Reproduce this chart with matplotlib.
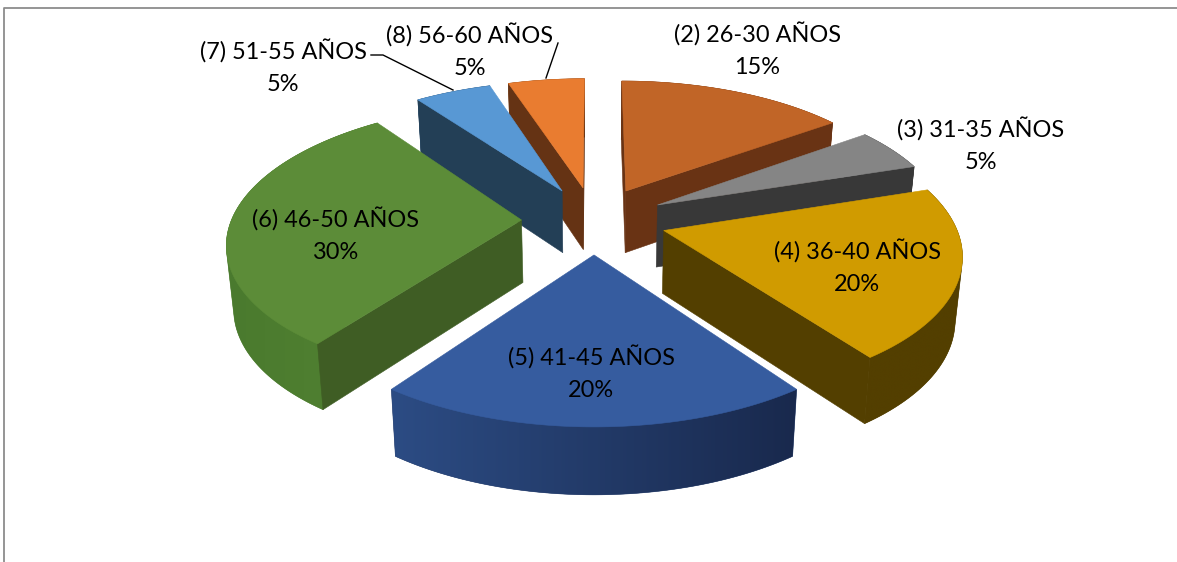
import numpy as np
import matplotlib
matplotlib.use('Agg')
import matplotlib.pyplot as plt
from matplotlib.colors import to_rgb
from matplotlib.patches import Polygon

labels = ['(2) 26-30 AÑOS', '(3) 31-35 AÑOS', '(4) 36-40 AÑOS', '(5) 41-45 AÑOS',
          '(6) 46-50 AÑOS', '(7) 51-55 AÑOS', '(8) 56-60 AÑOS']
values = [15, 5, 20, 20, 30, 5, 5]

top_colors = ['#C16527', '#858585', '#D09B00', '#365C9F', '#5C8C38', '#5898D4', '#E97C30']
cut_colors = ['#693314', '#383838', '#533F00', '#1A2A4F', '#3F5D24', '#233F56', '#653314']
side_left = ['#7A3D16', '#4A4A4A', '#533F00', '#2C4C84', '#4A7A2E', '#30597F', '#8A4A1A']
side_right = ['#693314', '#383838', '#533F00', '#19294D', '#528232', '#233F56', '#653314']

label_xy = [(757, 50), (981, 145), (857, 267), (591, 373), (335, 235), (283, 67), (470, 51)]
leaders = [None, None, None, None, None, ((371, 55), (383, 55), (453, 90)), ((558, 43), (546, 78))]

# perspective of the pie plane, fitted by eye against the picture
CX, CY = 594, 220
FX, FY = 290, 134.5
PERSP = 0.15
EXPLODE = 0.25
DROP = 62.5
BOTTOM_SHRINK = 0.98
DRAW_ORDER = [6, 5, 0, 1, 4, 2, 3]


def project(x, y, bottom=False):
    w = 1 + PERSP * y
    sx = FX * x / w
    sy = CY - FY * y / w
    if bottom:
        sx = sx * BOTTOM_SHRINK
        sy = sy + DROP / w ** 0.4
    return CX + sx, sy


def signed_area(px, py):
    return 0.5 * np.sum(px * np.roll(py, -1) - np.roll(px, -1) * py)


def convex_hull(points):
    pts = sorted(map(tuple, points))

    def half(seq):
        out = []
        for p in seq:
            while len(out) > 1 and ((out[-1][0] - out[-2][0]) * (p[1] - out[-2][1])
                                    - (out[-1][1] - out[-2][1]) * (p[0] - out[-2][0])) <= 0:
                out.pop()
            out.append(p)
        return out[:-1]

    return np.array(half(pts) + half(pts[::-1]))


def draw_face(ax, px, py, color, zorder):
    ax.fill(px, py, color=color, lw=0.4, zorder=zorder)


def draw_side(ax, tx, ty, bx, by, left_col, right_col, z):
    # curved outer side: left to right gradient clipped to the outline of the rims,
    # the top and the cut faces go over whatever is not really visible
    xy = convex_hull(np.column_stack([np.r_[tx, bx], np.r_[ty, by]]))
    mid_col = (np.array(to_rgb(left_col)) + np.array(to_rgb(right_col))) / 2
    draw_face(ax, xy[:, 0], xy[:, 1], mid_col, z)
    grad = np.linspace(to_rgb(left_col), to_rgb(right_col), 256)[np.newaxis, :, :]
    im = ax.imshow(grad, extent=(xy[:, 0].min(), xy[:, 0].max(), xy[:, 1].max(), xy[:, 1].min()),
                   aspect='auto', interpolation='bilinear', zorder=z + 0.05)
    im.set_clip_path(Polygon(xy, transform=ax.transData))


def draw_wedge(ax, start, end, top_col, cut_col, left_col, right_col, z):
    mid = np.radians((start + end) / 2)
    ox, oy = EXPLODE * np.sin(mid), EXPLODE * np.cos(mid)
    t = np.radians(np.linspace(start, end, max(int(end - start), 2) * 2))
    rim_x, rim_y = ox + np.sin(t), oy + np.cos(t)

    tx, ty = project(rim_x, rim_y)
    bx, by = project(rim_x, rim_y, bottom=True)
    ax_t, ay_t = project(ox, oy)
    ax_b, ay_b = project(ox, oy, bottom=True)

    draw_side(ax, tx, ty, bx, by, left_col, right_col, z)

    # the two cut faces, only when they turn towards the viewer
    faces = [([ax_t, tx[0], bx[0], ax_b], [ay_t, ty[0], by[0], ay_b], -1),
             ([ax_t, tx[-1], bx[-1], ax_b], [ay_t, ty[-1], by[-1], ay_b], 1)]
    for fx, fy, sign in faces:
        fx, fy = np.array(fx), np.array(fy)
        if sign * signed_area(fx, fy) > 0:
            draw_face(ax, fx, fy, cut_col, z + 0.1)

    draw_face(ax, np.r_[ax_t, tx], np.r_[ay_t, ty], top_col, z + 0.2)


fig = plt.figure(figsize=(11.77, 5.62), dpi=100)
ax = fig.add_axes([0, 0, 1, 1])
ax.axis('off')

# chart frame, only the top and left edges are inside the crop
ax.plot([4, 4, 1177], [562, 7.5, 7.5], color='#8C8C8C', lw=1.3, zorder=0)

edges = np.cumsum([0] + values) / sum(values) * 360
for n, i in enumerate(DRAW_ORDER):
    draw_wedge(ax, edges[i], edges[i + 1], top_colors[i], cut_colors[i],
               side_left[i], side_right[i], 2 + n)

for i, lab in enumerate(labels):
    pct = f"{values[i]}%"
    ax.text(label_xy[i][0], label_xy[i][1], f"{lab}\n{pct}", ha='center', va='center',
            family='Lato', fontsize=16.9, color='black', linespacing=1.6, zorder=20)
    if leaders[i] is not None:
        lx, ly = zip(*leaders[i])
        ax.plot(lx, ly, color='black', lw=1, zorder=20)

ax.set_xlim(0, 1177)
ax.set_ylim(562, 0)

fig.savefig('out.png', dpi=100)
plt.close(fig)
